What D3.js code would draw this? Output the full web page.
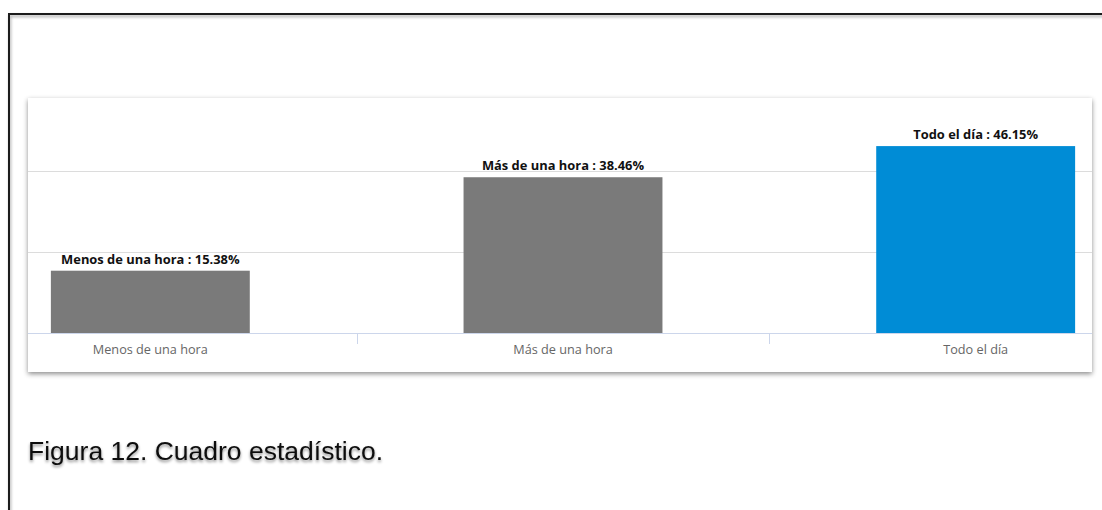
<!DOCTYPE html>
<html>
<head>
<meta charset="utf-8">
<script src="https://cdn.jsdelivr.net/npm/d3@7/dist/d3.min.js"></script>
<style>
  html, body { margin: 0; padding: 0; background: #fff; }
  svg { display: block; }
</style>
</head>
<body>
<script>
// Time spent per day: share of respondents per category (%)
const categories = ["Menos de una hora", "Más de una hora", "Todo el día"];
const values = [15.38, 38.46, 46.15];
const barColors = ["#7a7a7a", "#7a7a7a", "#008cd6"];
const gridTicks = [20, 40];
const caption = "Figura 12. Cuadro estadístico.";

const W = 1102, H = 510;
const card = { x: 28, y: 98, w: 1064, h: 274 };
const baseY = 333;

const svg = d3.select("body").append("svg")
  .attr("width", W).attr("height", H);

const defs = svg.append("defs");

// soft shadow for the chart card
const cardShadow = defs.append("filter").attr("id", "cardShadow")
  .attr("x", "-5%").attr("y", "-10%").attr("width", "110%").attr("height", "125%");
cardShadow.append("feDropShadow")
  .attr("dx", 0).attr("dy", 2).attr("stdDeviation", 2.4)
  .attr("flood-color", "#000").attr("flood-opacity", 0.45);

// blurred shadow under the caption text
const textShadow = defs.append("filter").attr("id", "textShadow")
  .attr("x", "-5%").attr("y", "-30%").attr("width", "110%").attr("height", "170%");
textShadow.append("feDropShadow")
  .attr("dx", 0).attr("dy", 2).attr("stdDeviation", 1.6)
  .attr("flood-color", "#000").attr("flood-opacity", 0.45);

// frame shadow
const frameShadow = defs.append("filter").attr("id", "frameShadow")
  .attr("x", "-5%").attr("y", "-5%").attr("width", "110%").attr("height", "110%");
frameShadow.append("feDropShadow")
  .attr("dx", 1).attr("dy", 2).attr("stdDeviation", 1.5)
  .attr("flood-color", "#000").attr("flood-opacity", 0.35);

defs.append("clipPath").attr("id", "cardClip")
  .append("rect").attr("x", card.x).attr("y", card.y)
  .attr("width", card.w).attr("height", card.h);

// outer page frame (top and left edges visible)
svg.append("path")
  .attr("d", `M9,${H + 5} V14 H${W + 5}`)
  .attr("fill", "none")
  .attr("stroke", "#1a1a1a")
  .attr("stroke-width", 2)
  .attr("filter", "url(#frameShadow)");

// chart card
svg.append("rect")
  .attr("x", card.x).attr("y", card.y)
  .attr("width", card.w).attr("height", card.h)
  .attr("fill", "#fff")
  .attr("filter", "url(#cardShadow)");

const plot = svg.append("g").attr("clip-path", "url(#cardClip)");

const x = d3.scaleBand()
  .domain(categories)
  .range([-56, 1182])
  .paddingInner(0.518)
  .paddingOuter(0.259);

const y = d3.scaleLinear()
  .domain([0, 60])
  .range([baseY, baseY - 60 * 4.05]);

// horizontal gridlines
plot.selectAll("line.grid")
  .data(gridTicks)
  .join("line")
  .attr("class", "grid")
  .attr("x1", card.x).attr("x2", card.x + card.w)
  .attr("y1", d => Math.round(y(d)) + 0.5)
  .attr("y2", d => Math.round(y(d)) + 0.5)
  .attr("stroke", "#dcdcdc")
  .attr("stroke-width", 1);

// bars
plot.selectAll("rect.bar")
  .data(values)
  .join("rect")
  .attr("class", "bar")
  .attr("x", (d, i) => x(categories[i]))
  .attr("width", x.bandwidth())
  .attr("y", d => y(d))
  .attr("height", d => y(0) - y(d))
  .attr("fill", (d, i) => barColors[i]);

// value labels above bars
plot.selectAll("text.value")
  .data(values)
  .join("text")
  .attr("class", "value")
  .attr("x", (d, i) => x(categories[i]) + x.bandwidth() / 2)
  .attr("y", d => y(d) - 7)
  .attr("text-anchor", "middle")
  .attr("font-family", "'Open Sans', 'Noto Sans', sans-serif")
  .attr("font-weight", "bold")
  .attr("font-size", 12.9)
  .attr("fill", "#111")
  .text((d, i) => `${categories[i]} : ${d.toFixed(2)}%`);

// category axis
const xAxis = d3.axisBottom(x).tickSize(0).tickPadding(12);
const axisG = plot.append("g")
  .attr("transform", `translate(0,${baseY})`)
  .call(xAxis);
axisG.select(".domain").remove();
axisG.selectAll("text")
  .attr("font-family", "'Open Sans', 'Noto Sans', sans-serif")
  .attr("font-size", 12.7)
  .attr("fill", "#666");

plot.append("line")
  .attr("x1", card.x).attr("x2", card.x + card.w)
  .attr("y1", baseY + 0.5).attr("y2", baseY + 0.5)
  .attr("stroke", "#ccd6eb");

// separators between categories
const step = x.step();
const bounds = categories.slice(1).map(c => x(c) - step * x.paddingInner() / 2);
plot.selectAll("line.sep")
  .data(bounds)
  .join("line")
  .attr("class", "sep")
  .attr("x1", d => Math.round(d) + 0.5).attr("x2", d => Math.round(d) + 0.5)
  .attr("y1", baseY).attr("y2", baseY + 11)
  .attr("stroke", "#ccd6eb");

// caption
svg.append("text")
  .attr("x", 28).attr("y", 460)
  .attr("font-family", "'Liberation Sans', Arial, sans-serif")
  .attr("font-size", 26.5)
  .attr("fill", "#111")
  .attr("filter", "url(#textShadow)")
  .text(caption);
</script>
</body>
</html>
